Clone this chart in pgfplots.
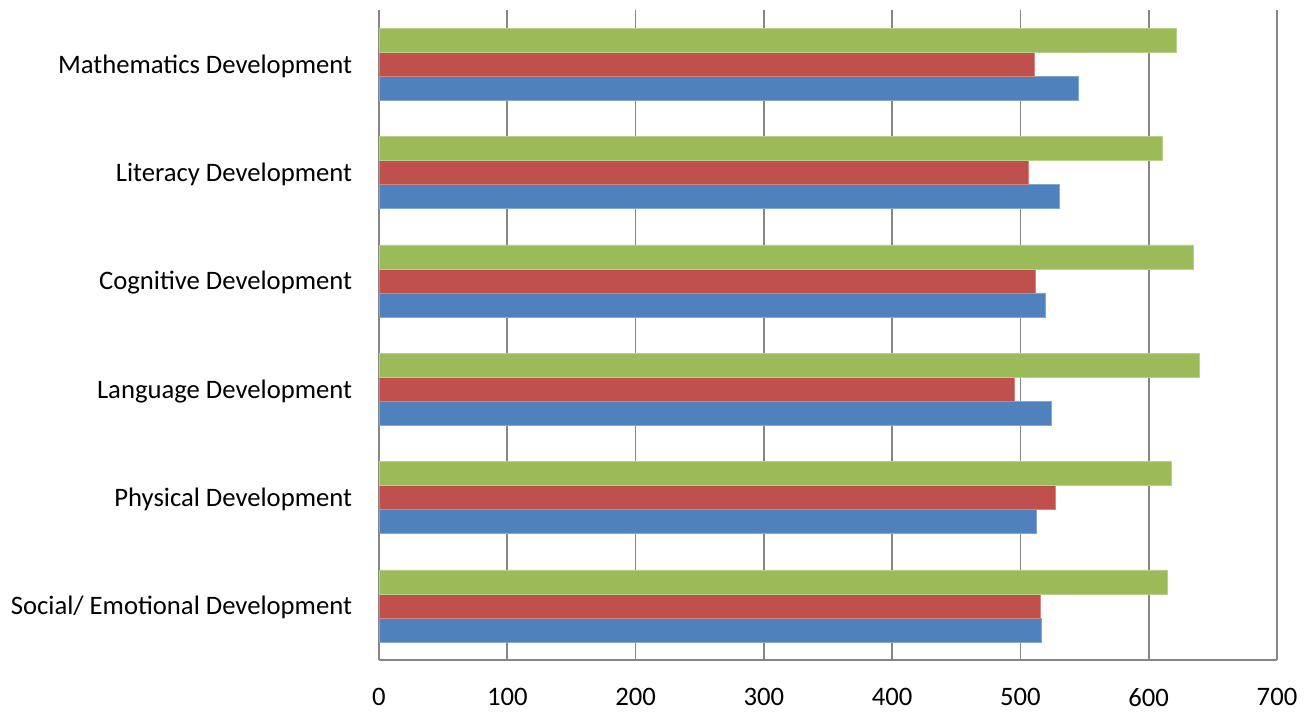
\documentclass[border=0pt]{standalone}
\usepackage{fontspec}
\setmainfont{Carlito}
\usepackage{pgfplots}
\pgfplotsset{compat=1.18}
\definecolor{cblue}{HTML}{4F81BD}
\definecolor{cred}{HTML}{C0504D}
\definecolor{cgreen}{HTML}{9BBB59}
\definecolor{cgrid}{HTML}{868686}
\begin{document}
\begin{tikzpicture}
\begin{axis}[
  scale only axis,
  width=673.5pt, height=487.5pt,
  xmin=0, xmax=700, ymin=-0.5, ymax=5.5,
  xtick={0,100,...,700},
  ytick={0,1,2,3,4,5},
  yticklabels={Social/ Emotional Development, Physical Development, Language Development, Cognitive Development, Literacy Development, Mathematics Development},
  xmajorgrids,
  grid style={cgrid, line width=1.2pt},
  axis x line*=bottom, axis y line*=left,
  axis line style={cgrid, line width=1.2pt, -},
  major tick length=0pt,
  tick style={draw=none},
  /pgf/number format/assume math mode=true,
  x tick label style={font=\fontsize{20pt}{24pt}\selectfont, inner sep=0pt, anchor=north, yshift=-21pt},
  y tick label style={font=\fontsize{20pt}{24pt}\selectfont, inner sep=0pt, anchor=east, xshift=-20pt, yshift=-1.5pt},
  xbar, bar width=18pt,
  clip=false,
]
\addplot[fill=cblue, draw=cblue!70!white, line width=0.4pt, bar shift=-18pt] coordinates {
(516.2,0) (512.1,1) (524.0,2) (519.1,3) (530.3,4) (545.3,5)};
\addplot[fill=cred, draw=cred!70!white, line width=0.4pt, bar shift=0pt] coordinates {
(515.2,0) (526.9,1) (494.9,2) (511.6,3) (506.4,4) (510.8,5)};
\addplot[fill=cgreen, draw=cgreen!70!white, line width=0.4pt, bar shift=18pt] coordinates {
(614.4,0) (617.3,1) (639.4,2) (634.5,3) (610.3,4) (621.2,5)};
\end{axis}
\path[use as bounding box] ([shift={(-284.25pt,-38.25pt)}]current axis.south west) rectangle ([shift={(29.25pt,7.5pt)}]current axis.north east);
\end{tikzpicture}
\end{document}
